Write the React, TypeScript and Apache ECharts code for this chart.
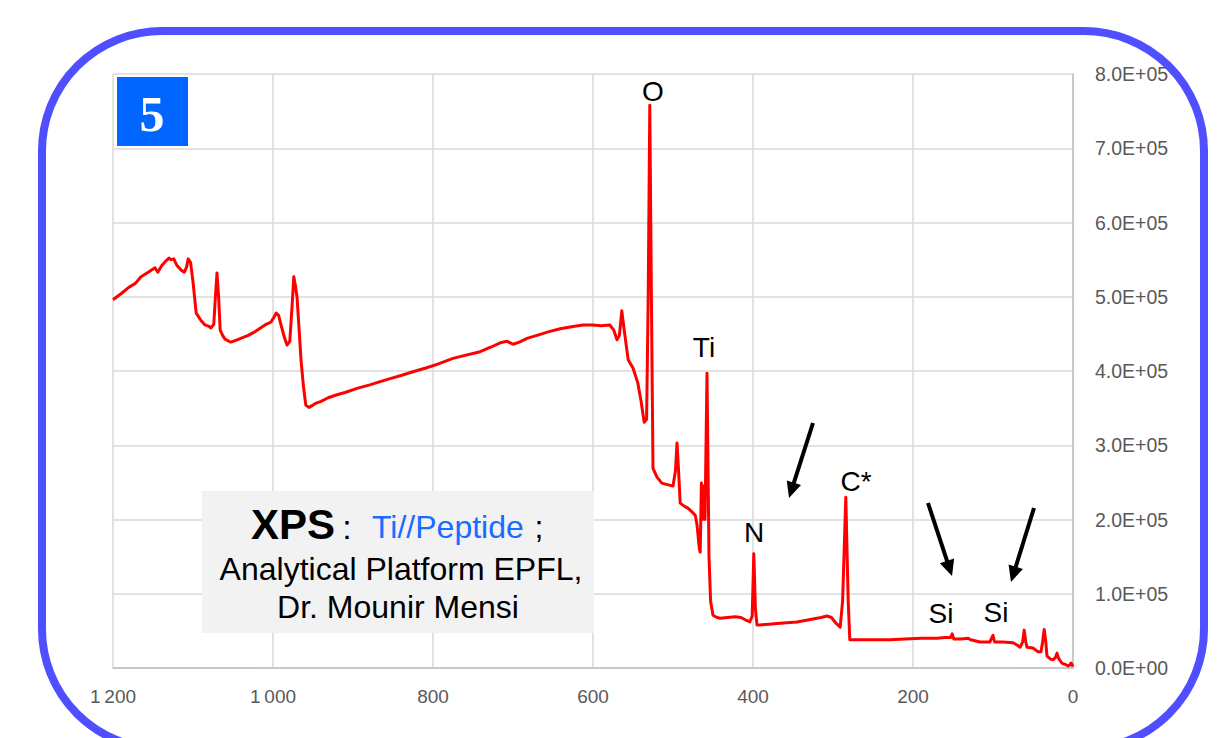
import React, { useEffect, useRef } from 'react';
import * as echarts from 'echarts';

// Binding energy (eV) and intensity (counts)
const bindingEnergy = [
  1200, 1190, 1181, 1172, 1165, 1156, 1147.5, 1144, 1139, 1134, 1130, 1127.5, 1124, 1120, 1115, 1111, 1108, 1106, 1103, 1100,
  1096, 1090, 1085, 1080, 1077.5, 1074, 1072, 1070, 1068, 1066, 1063, 1060, 1055, 1052.5, 1045, 1038, 1031, 1024, 1017, 1010,
  1006, 1002.5, 999, 996, 993, 990, 986, 982.5, 979, 976, 974, 972, 970, 967, 965, 962, 959, 955, 950, 947.5,
  940, 931, 920, 910, 894, 880, 865, 852.5, 840, 825, 809, 795, 775, 760, 741, 728, 716, 707.5, 700, 692,
  682.5, 670, 655, 641, 625, 612.5, 600, 590, 579, 574, 570, 567, 564, 561, 556, 550, 544, 540, 536, 533,
  531, 529, 527, 525, 520, 514, 507, 500, 497, 495, 493, 491, 486, 481, 475, 472, 470, 467, 466, 464.5,
  463, 461.5, 460, 457.5, 455, 453, 450, 445, 441, 432, 422.5, 415, 408, 404, 401, 399, 397, 395, 391, 380,
  370, 358, 345, 330, 315, 307.5, 302, 296, 291, 288, 284, 281, 279, 270, 250, 229, 210, 189, 170, 160,
  153, 151, 149, 140, 131, 128, 116, 104, 100, 98, 88, 75, 70, 66, 63, 61, 59, 57.5, 50, 44,
  40, 38, 36, 34, 32.5, 28, 25, 22, 20, 18, 14, 10, 6, 4, 2.5, 0,
];
const counts = [
  496000, 504000, 512000, 518000, 527000, 533000, 539000, 533000, 542000, 548000, 552000, 550000, 551000, 542000, 536000, 533000, 540000, 551000, 546000, 520000,
  478000, 468000, 462000, 460000, 458000, 463000, 500000, 532000, 500000, 455000, 448000, 443000, 440000, 439000, 442000, 445000, 448000, 452000, 457000, 462000,
  464000, 466000, 472000, 478000, 475000, 462000, 446000, 435000, 440000, 490000, 527000, 515000, 500000, 450000, 415000, 380000, 354000, 351000, 354000, 356000,
  359000, 364000, 368000, 371000, 377000, 381000, 386000, 390000, 394000, 399000, 404000, 409000, 417000, 421000, 426000, 432000, 438000, 440000, 436000, 439000,
  444000, 448000, 453000, 457000, 460000, 462000, 462000, 461000, 462000, 455000, 442000, 448000, 481000, 455000, 415000, 404000, 384000, 360000, 331000, 335000,
  500000, 758000, 500000, 269000, 257000, 249000, 247000, 245000, 265000, 303000, 265000, 222000, 218000, 215000, 209000, 205000, 193000, 160000, 156000, 249000,
  200000, 245000, 200000, 397000, 150000, 90000, 71000, 68000, 67000, 68000, 69000, 68000, 64000, 62000, 70000, 154000, 80000, 58000, 58000, 59000,
  60000, 61000, 62000, 65000, 68000, 70000, 68000, 60000, 55000, 90000, 230000, 90000, 38000, 38000, 38000, 38000, 39000, 40000, 40000, 41000,
  41000, 46000, 39000, 39000, 40000, 38000, 35000, 35000, 44000, 35000, 35000, 34000, 31000, 28000, 35000, 51000, 35000, 28000, 27000, 22000,
  22000, 35000, 52000, 35000, 16000, 12000, 11000, 14000, 20000, 13000, 6700, 5000, 2700, 4000, 6700, 2000,
];

const xMin = 0;
const xMax = 1200;
const xStep = 200;
const yMin = 0;
const yMax = 800000;
const yStep = 100000;

const peakNames = ['O', 'Ti', 'N', 'C*', 'Si', 'Si'];
const panelNumber = '5';
const titleBold = 'XPS';
const titleSample = 'Ti//Peptide';
const creditLine1 = 'Analytical Platform EPFL,';
const creditLine2 = 'Dr. Mounir Mensi';

function fmtX(v: number): string {
  const s = String(v);
  return s.length > 3 ? s.slice(0, -3) + '\u2009' + s.slice(-3) : s;
}

function fmtY(v: number): string {
  if (v === 0) return '0.0E+00';
  const e = Math.floor(Math.log10(v) + 1e-9);
  const m = v / Math.pow(10, e);
  return m.toFixed(1) + 'E+' + String(e).padStart(2, '0');
}

function arrow(x1: number, y1: number, x2: number, y2: number) {
  const dx = x2 - x1;
  const dy = y2 - y1;
  const L = Math.hypot(dx, dy);
  const ux = dx / L;
  const uy = dy / L;
  const hl = 16;
  const hw = 7.5;
  const bx = x2 - ux * hl;
  const by = y2 - uy * hl;
  return [
    {
      type: 'line',
      z: 20,
      shape: { x1, y1, x2: bx + ux * 3, y2: by + uy * 3 },
      style: { stroke: '#000', lineWidth: 4 },
    },
    {
      type: 'polygon',
      z: 20,
      shape: { points: [[x2, y2], [bx - uy * hw, by + ux * hw], [bx + uy * hw, by - ux * hw]] },
      style: { fill: '#000' },
    },
  ];
}

const FONT = '"Liberation Sans", Arial, sans-serif';

export default function App() {
  const ref = useRef<HTMLDivElement>(null);

  useEffect(() => {
    if (!ref.current) return;
    const chart = echarts.init(ref.current, null, { renderer: 'svg' });
    const data = bindingEnergy.map((x, i) => [x, counts[i]]);

    const peakPos = [
      [653, 91],
      [704, 347],
      [754, 532],
      [856, 481],
      [941, 613],
      [996, 612],
    ];

    const peakTexts = peakNames.map((name, i) => ({
      type: 'text',
      z: 20,
      x: peakPos[i][0],
      y: peakPos[i][1],
      style: {
        text: name,
        fill: '#000',
        fontSize: 28,
        fontFamily: FONT,
        textAlign: 'center',
        textVerticalAlign: 'middle',
      },
    }));

    const option: any = {
      animation: false,
      backgroundColor: '#fff',
      grid: { left: 113, right: 149, top: 74, bottom: 70, outerBoundsMode: 'none', containLabel: false },
      xAxis: {
        type: 'value',
        min: xMin,
        max: xMax,
        interval: xStep,
        inverse: true,
        axisLine: { show: true, lineStyle: { color: '#bfbfbf', width: 1.5 } },
        axisTick: { show: false },
        splitLine: { show: true, lineStyle: { color: '#d9d9d9', width: 1.5 } },
        axisLabel: {
          show: true,
          showMinLabel: true,
          showMaxLabel: true,
          formatter: (v: number) => fmtX(v),
          color: '#595959',
          fontSize: 19,
          fontFamily: FONT,
          margin: 19,
        },
      },
      yAxis: {
        type: 'value',
        position: 'right',
        min: yMin,
        max: yMax,
        interval: yStep,
        axisLine: { show: true, lineStyle: { color: '#bfbfbf', width: 1.5 } },
        axisTick: { show: false },
        splitLine: { show: true, lineStyle: { color: '#d9d9d9', width: 1.5 } },
        axisLabel: {
          show: true,
          showMinLabel: true,
          showMaxLabel: true,
          formatter: (v: number) => fmtY(v),
          color: '#595959',
          fontSize: 19.5,
          fontFamily: FONT,
          margin: 22,
        },
      },
      series: [
        {
          type: 'line',
          data,
          showSymbol: false,
          symbol: 'none',
          smooth: false,
          lineStyle: { color: '#ff0000', width: 3, join: 'round' },
          itemStyle: { color: '#ff0000' },
          z: 5,
        },
      ],
      graphic: [
        {
          type: 'rect',
          z: 30,
          shape: { x: 42, y: 31, width: 1162, height: 718, r: 120 },
          style: { fill: 'none', stroke: '#4f4fff', lineWidth: 8 },
        },
        {
          type: 'rect',
          z: 15,
          shape: { x: 117, y: 77, width: 71, height: 69 },
          style: { fill: '#0066ff' },
        },
        {
          type: 'text',
          z: 16,
          x: 152,
          y: 114,
          style: {
            text: panelNumber,
            fill: '#fff',
            fontSize: 50,
            fontWeight: 'bold',
            fontFamily: '"Liberation Serif", "Times New Roman", serif',
            textAlign: 'center',
            textVerticalAlign: 'middle',
          },
        },
        {
          type: 'rect',
          z: 15,
          shape: { x: 202, y: 491, width: 392, height: 142 },
          style: { fill: '#f2f2f2' },
        },
        {
          type: 'text',
          z: 16,
          x: 251,
          y: 524,
          style: { text: titleBold, fill: '#000', fontSize: 42, fontWeight: 'bold', fontFamily: FONT, textAlign: 'left', textVerticalAlign: 'middle' },
        },
        {
          type: 'text',
          z: 16,
          x: 347,
          y: 527,
          style: { text: ':', fill: '#000', fontSize: 34, fontFamily: FONT, textAlign: 'center', textVerticalAlign: 'middle' },
        },
        {
          type: 'text',
          z: 16,
          x: 372,
          y: 527,
          style: { text: titleSample, fill: '#1a6bff', fontSize: 32, fontFamily: FONT, textAlign: 'left', textVerticalAlign: 'middle' },
        },
        {
          type: 'text',
          z: 16,
          x: 539,
          y: 527,
          style: { text: ';', fill: '#000', fontSize: 32, fontFamily: FONT, textAlign: 'center', textVerticalAlign: 'middle' },
        },
        {
          type: 'text',
          z: 16,
          x: 401,
          y: 569,
          style: { text: creditLine1, fill: '#000', fontSize: 32, fontFamily: FONT, textAlign: 'center', textVerticalAlign: 'middle' },
        },
        {
          type: 'text',
          z: 16,
          x: 398,
          y: 607,
          style: { text: creditLine2, fill: '#000', fontSize: 32, fontFamily: FONT, textAlign: 'center', textVerticalAlign: 'middle' },
        },
        ...peakTexts,
        ...arrow(813, 423, 789, 498),
        ...arrow(928, 503, 952, 576),
        ...arrow(1034, 508, 1011, 582),
      ],
    };

    chart.setOption(option);
    return () => {
      chart.dispose();
    };
  }, []);

  return (
    <div
      ref={ref}
      style={{ position: 'fixed', left: 0, top: 0, width: 1222, height: 738, background: '#fff' }}
    />
  );
}
